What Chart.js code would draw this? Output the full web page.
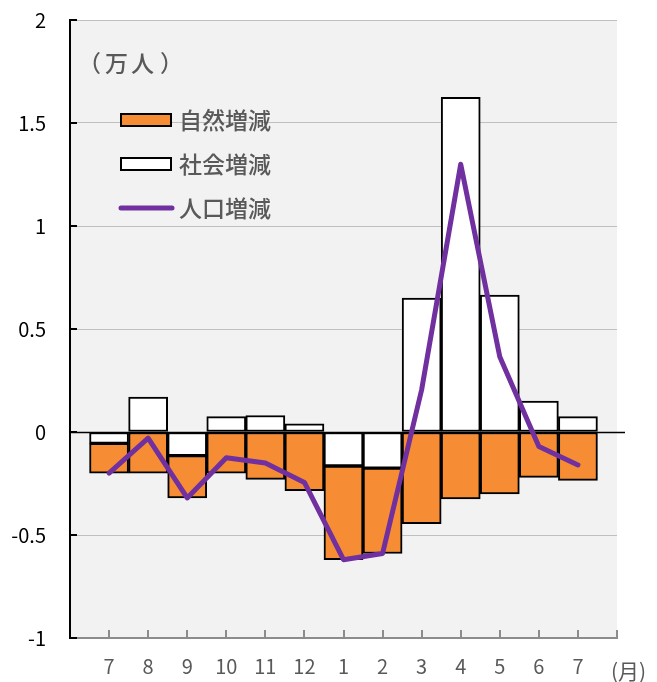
<!DOCTYPE html>
<html lang="ja">
<head>
<meta charset="utf-8">
<script src="https://cdn.jsdelivr.net/npm/chart.js@4.4.0/dist/chart.umd.min.js"></script>
<style>
  html, body { margin: 0; padding: 0; background: #fff; }
  #wrap { width: 657px; height: 682px; }
</style>
</head>
<body>
<div id="wrap"><canvas id="popChart" width="657" height="682"></canvas></div>
<script>
// months (the second 7 is the following year)
const months = ['7', '8', '9', '10', '11', '12', '1', '2', '3', '4', '5', '6', '7'];
// 自然増減 (万人)
const naturalChange = [-0.145, -0.20, -0.205, -0.20, -0.23, -0.285, -0.455, -0.415, -0.445, -0.325, -0.30, -0.22, -0.235];
// 社会増減 (万人)
const socialChange = [-0.055, 0.17, -0.115, 0.075, 0.08, 0.04, -0.165, -0.175, 0.65, 1.625, 0.665, 0.15, 0.075];
// 人口増減 (万人)
const totalChange = [-0.20, -0.03, -0.32, -0.125, -0.15, -0.245, -0.62, -0.59, 0.205, 1.30, 0.365, -0.07, -0.16];
const yTicks = [-1, -0.5, 0, 0.5, 1, 1.5, 2];
const seriesNames = ['自然増減', '社会増減', '人口増減'];
const unitLabel = '（万人）';
const monthLabel = '(月)';

const FONT = "'Noto Sans CJK JP', 'Noto Sans', sans-serif";
const ORANGE = '#F68D34';
const PURPLE = '#7030A0';
const GREY_TEXT = '#595959';

// one empty slot on each side so the first/last bar sits a full step in from the axes
const xLabels = ['', ...months, ''];
const pad = arr => [null, ...arr, null];

// draws text char by char, each char's ink starting at the given x
function spacedText(ctx, text, inkLefts, y) {
    [...text].forEach((ch, i) => {
        const m = ctx.measureText(ch);
        ctx.fillText(ch, inkLefts[i] + m.actualBoundingBoxLeft, y);
    });
}

// background, inside tick marks, zero line, legend and unit labels
const excelDecor = {
    id: 'excelDecor',
    beforeDraw(chart) {
        const { ctx, chartArea: a } = chart;
        ctx.save();
        ctx.fillStyle = '#f2f2f2';
        ctx.fillRect(a.left, a.top, a.right - a.left, a.bottom - a.top);
        ctx.restore();
    },
    beforeDatasetsDraw(chart) {
        const { ctx, chartArea: a } = chart;
        const y0 = Math.round(chart.scales.y.getPixelForValue(0)) + 0.5;
        ctx.save();
        ctx.strokeStyle = '#000';
        ctx.lineWidth = 1.5;
        ctx.beginPath();
        ctx.moveTo(a.left, y0);
        ctx.lineTo(a.right + 8, y0);
        ctx.stroke();
        ctx.restore();
    },
    afterDraw(chart) {
        const { ctx, chartArea: a } = chart;
        const xs = chart.scales.x, ys = chart.scales.y;
        ctx.save();

        // y ticks (inside)
        ctx.strokeStyle = '#000';
        ctx.lineWidth = 2;
        yTicks.forEach(v => {
            const y = Math.round(ys.getPixelForValue(v));
            ctx.beginPath();
            ctx.moveTo(a.left, y);
            ctx.lineTo(a.left + 7, y);
            ctx.stroke();
        });

        // x ticks (inside)
        ctx.strokeStyle = '#8c8c8c';
        ctx.lineWidth = 2;
        for (let i = 1; i < xLabels.length; i++) {
            const x = Math.round(xs.getPixelForTick(i));
            ctx.beginPath();
            ctx.moveTo(x, a.bottom);
            ctx.lineTo(x, a.bottom - 8);
            ctx.stroke();
        }

        // legend
        ctx.lineWidth = 2;
        ctx.strokeStyle = '#000';
        ctx.fillStyle = ORANGE;
        ctx.fillRect(121, 114, 50, 12);
        ctx.strokeRect(121, 114, 50, 12);
        ctx.fillStyle = '#fff';
        ctx.fillRect(121, 158, 50, 12);
        ctx.strokeRect(121, 158, 50, 12);
        ctx.strokeStyle = PURPLE;
        ctx.lineWidth = 5;
        ctx.lineCap = 'round';
        ctx.beginPath();
        ctx.moveTo(121, 208);
        ctx.lineTo(172, 208);
        ctx.stroke();

        ctx.fillStyle = GREY_TEXT;
        ctx.font = '500 23px ' + FONT;
        ctx.textBaseline = 'middle';
        ctx.textAlign = 'left';
        ctx.fillText(seriesNames[0], 179, 120);
        ctx.fillText(seriesNames[1], 179, 164);
        ctx.fillText(seriesNames[2], 179, 208);
        spacedText(ctx, unitLabel, [93, 105, 131, 161], 63);
        ctx.font = '21px ' + FONT;
        ctx.fillText(monthLabel, 611, 671);
        ctx.restore();
    }
};

const ctx = document.getElementById('popChart').getContext('2d');
const popChart = new Chart(ctx, {
    type: 'bar',
    data: {
        labels: xLabels,
        datasets: [
            {
                type: 'line',
                label: seriesNames[2],
                data: pad(totalChange),
                borderColor: PURPLE,
                borderWidth: 5,
                pointRadius: 0,
                tension: 0,
                borderCapStyle: 'round',
                borderJoinStyle: 'round',
                stack: 'pop',
                order: 0
            },
            {
                label: seriesNames[1],
                data: pad(socialChange),
                backgroundColor: '#fff',
                borderColor: '#000',
                borderWidth: 2,
                borderSkipped: false,
                categoryPercentage: 1,
                barPercentage: 1,
                stack: 'bars',
                order: 1
            },
            {
                label: seriesNames[0],
                data: pad(naturalChange),
                backgroundColor: ORANGE,
                borderColor: '#000',
                borderWidth: 2,
                borderSkipped: false,
                categoryPercentage: 1,
                barPercentage: 1,
                stack: 'bars',
                order: 2
            }
        ]
    },
    options: {
        responsive: false,
        animation: false,
        devicePixelRatio: 1,
        layout: { padding: { top: 20, right: 40, left: 0, bottom: 0 } },
        plugins: {
            legend: { display: false },
            tooltip: { enabled: false }
        },
        scales: {
            x: {
                stacked: true,
                offset: false,
                grid: { display: false, drawTicks: false },
                border: { color: '#8c8c8c', width: 2 },
                ticks: {
                    color: GREY_TEXT,
                    font: { family: FONT, size: 20 },
                    padding: 16,
                    maxRotation: 0,
                    autoSkip: false
                },
                afterFit: s => { s.height = 44; }
            },
            y: {
                stacked: true,
                min: yTicks[0],
                max: yTicks[yTicks.length - 1],
                afterBuildTicks: s => { s.ticks = yTicks.map(v => ({ value: v })); },
                // transparent tick marks just push the labels left without padding the top
                grid: { color: '#c0c0c0', lineWidth: 1, drawTicks: true, tickLength: 24, tickColor: 'transparent' },
                border: { color: '#000', width: 2 },
                ticks: {
                    color: '#000',
                    font: { family: FONT, size: 20 },
                    padding: 0,
                    callback: v => String(v)
                },
                afterFit: s => { s.width = 70; }
            }
        }
    },
    plugins: [excelDecor]
});
</script>
</body>
</html>
